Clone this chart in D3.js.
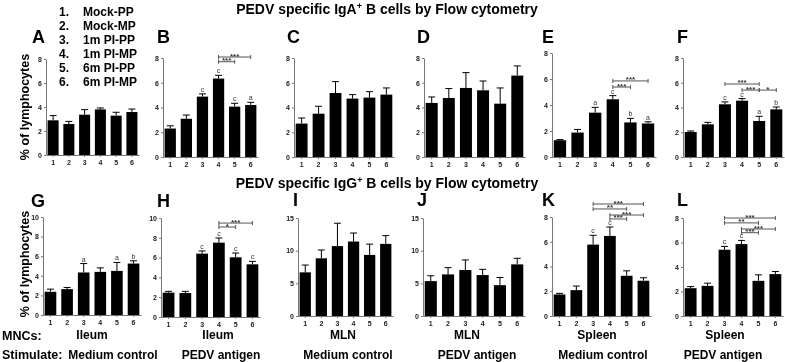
<!DOCTYPE html>
<html>
<head>
<meta charset="utf-8">
<script src="https://cdn.jsdelivr.net/npm/d3@7"></script>
<style>
body { margin: 0; background: #fff; }
svg { font-family: "Liberation Sans", Arial, sans-serif; font-weight: bold; will-change: transform; }
.axis path, .axis line { stroke: #777; }
.axis text { font-size: 7px; font-weight: bold; fill: #222; }
</style>
</head>
<body>
<div id="chart"></div>
<script>
var width = 785, height = 362;

var groups = ["1", "2", "3", "4", "5", "6"];
var legendLabels = ["Mock-PP", "Mock-MP", "1m PI-PP", "1m PI-MP", "6m PI-PP", "6m PI-MP"];

// IgA+ B cells, mean and SEM (% of lymphocytes)
var meanA = [2.89, 2.58, 3.36, 3.80, 3.28, 3.58];
var semA  = [0.39, 0.22, 0.42, 0.12, 0.28, 0.25];
var meanB = [2.30, 3.09, 4.88, 6.34, 4.07, 4.20];
var semB  = [0.22, 0.30, 0.22, 0.26, 0.27, 0.22];
var meanC = [2.70, 3.50, 5.17, 4.72, 4.80, 5.04];
var semC  = [0.45, 0.60, 0.92, 0.32, 0.48, 0.54];
var meanD = [4.37, 4.77, 5.58, 5.39, 4.31, 6.58];
var semD  = [0.48, 0.76, 1.24, 0.75, 1.27, 0.78];
var meanE = [1.29, 1.88, 3.41, 4.44, 2.66, 2.58];
var semE  = [0.05, 0.24, 0.41, 0.28, 0.31, 0.13];
var meanF = [2.02, 2.64, 4.26, 4.55, 2.91, 3.85];
var semF  = [0.08, 0.16, 0.19, 0.17, 0.38, 0.19];

// IgG+ B cells
var meanG = [2.37, 2.64, 4.34, 4.40, 4.50, 5.25];
var semG  = [0.27, 0.17, 0.91, 0.41, 0.86, 0.28];
var meanH = [2.46, 2.42, 6.40, 7.51, 6.03, 5.32];
var semH  = [0.13, 0.17, 0.27, 0.47, 0.43, 0.30];
var meanI = [6.68, 8.83, 10.70, 11.40, 9.35, 11.04];
var semI  = [1.12, 1.27, 3.50, 1.30, 1.65, 1.26];
var meanJ = [5.34, 6.37, 7.04, 6.27, 4.72, 7.90];
var semJ  = [0.82, 1.03, 1.54, 0.87, 1.18, 0.93];
var meanK = [1.74, 2.09, 5.77, 6.47, 3.25, 2.85];
var semK  = [0.09, 0.33, 0.75, 0.72, 0.40, 0.24];
var meanL = [2.27, 2.46, 5.41, 5.87, 2.87, 3.42];
var semL  = [0.13, 0.22, 0.27, 0.30, 0.49, 0.21];

// letters above bars
var letterB = ["", "", "c", "c", "c", "a"];
var letterE = ["", "", "a", "c", "b", "a"];
var letterF = ["", "", "c", "c", "a", "b"];
var letterG = ["", "", "a", "", "a", "b"];
var letterH = ["", "", "c", "c", "c", "c"];
var letterK = ["", "", "c", "c", "", ""];
var letterL = ["", "", "c", "c", "", ""];

// significance brackets: [from group, to group, stars, level in data units]
var sigB = [[4, 6, "***", 8.08], [4, 5, "***", 7.7]];
var sigE = [[4, 6, "***", 5.85], [4, 5, "***", 5.38]];
var sigF = [[3, 5, "***", 5.9], [4, 5, "***", 5.41], [5, 6, "*", 5.41]];
var sigH = [[4, 6, "***", 9.49], [4, 5, "*", 9.09]];
var sigK = [[3, 6, "***", 9.05], [3, 5, "**", 8.65], [4, 6, "***", 8.16], [4, 5, "***", 7.84]];
var sigL = [[3, 6, "***", 8.0], [3, 5, "**", 7.6], [4, 6, "***", 7.1], [4, 5, "***", 6.8]];

var yMax8 = 8, yMax10 = 10, yMax15 = 15;
var yTicks8 = [0, 2, 4, 6, 8], yTicks10 = [0, 2, 4, 6, 8, 10], yTicks15 = [0, 5, 10, 15];

var tissueLabels = ["Ileum", "Ileum", "MLN", "MLN", "Spleen", "Spleen"];
var stimLabels = ["Medium control", "PEDV antigen", "Medium control", "PEDV antigen", "Medium control", "PEDV antigen"];

var panels = [
  {id: "A", mean: meanA, sem: semA, max: yMax8, ticks: yTicks8, x0: 46, x1: 139, yb: 155, yt: 59, lx: 32, ly: 43},
  {id: "B", mean: meanB, sem: semB, max: yMax8, ticks: yTicks8, letters: letterB, sig: sigB, x0: 163, x1: 258, yb: 157, yt: 58, lx: 157, ly: 43},
  {id: "C", mean: meanC, sem: semC, max: yMax8, ticks: yTicks8, x0: 294, x1: 394, yb: 157, yt: 58, lx: 287, ly: 43},
  {id: "D", mean: meanD, sem: semD, max: yMax8, ticks: yTicks8, x0: 424, x1: 525, yb: 157, yt: 58, lx: 417, ly: 43},
  {id: "E", mean: meanE, sem: semE, max: yMax8, ticks: yTicks8, letters: letterE, sig: sigE, x0: 552, x1: 656, yb: 157, yt: 53, lx: 542, ly: 43},
  {id: "F", mean: meanF, sem: semF, max: yMax8, ticks: yTicks8, letters: letterF, sig: sigF, x0: 683, x1: 784, yb: 157, yt: 58, lx: 677, ly: 43},
  {id: "G", mean: meanG, sem: semG, max: yMax10, ticks: yTicks10, letters: letterG, x0: 43, x1: 141, yb: 315, yt: 217, lx: 31, ly: 207},
  {id: "H", mean: meanH, sem: semH, max: yMax10, ticks: yTicks10, letters: letterH, sig: sigH, x0: 161, x1: 260, yb: 317, yt: 218, lx: 157, ly: 207},
  {id: "I", mean: meanI, sem: semI, max: yMax15, ticks: yTicks15, x0: 298, x1: 393, yb: 316, yt: 218, lx: 293, ly: 206},
  {id: "J", mean: meanJ, sem: semJ, max: yMax15, ticks: yTicks15, x0: 423, x1: 525, yb: 316, yt: 218, lx: 417, ly: 206},
  {id: "K", mean: meanK, sem: semK, max: yMax8, ticks: yTicks8, letters: letterK, sig: sigK, x0: 552, x1: 651, yb: 316, yt: 217, lx: 542, ly: 206},
  {id: "L", mean: meanL, sem: semL, max: yMax8, ticks: yTicks8, letters: letterL, sig: sigL, x0: 683, x1: 783, yb: 316, yt: 218, lx: 677, ly: 206}
];
// label centres under the bottom row
var tissueX = [92, 218, 343, 467, 597, 725];
var stimX = [113, 221, 348, 477, 603, 723];

var svg = d3.select("#chart").append("svg")
    .attr("width", width)
    .attr("height", height);

panels.forEach(function (p) {
    var x = d3.scaleBand().domain(groups).range([p.x0, p.x1]).paddingInner(0.3).paddingOuter(0.1);
    var y = d3.scaleLinear().domain([0, p.max]).range([p.yb, p.yt]);
    var g = svg.append("g");
    var bw = x.bandwidth();

    // bars
    g.selectAll("rect").data(p.mean).enter().append("rect")
        .attr("x", (d, i) => x(groups[i]))
        .attr("y", d => y(d))
        .attr("width", bw)
        .attr("height", d => p.yb - y(d))
        .attr("fill", "#000");

    // error bars (upper only)
    p.mean.forEach(function (m, i) {
        var cx = x(groups[i]) + bw / 2;
        var top = y(m + p.sem[i]);
        g.append("line").attr("x1", cx).attr("x2", cx).attr("y1", y(m)).attr("y2", top)
            .attr("stroke", "#000").attr("stroke-width", 1);
        g.append("line").attr("x1", cx - 3.5).attr("x2", cx + 3.5).attr("y1", top).attr("y2", top)
            .attr("stroke", "#000").attr("stroke-width", 1);
        if (p.letters && p.letters[i]) {
            g.append("text").attr("x", cx).attr("y", top - 2)
                .attr("text-anchor", "middle")
                .style("font-size", "7px").style("font-weight", "normal").style("fill", "#333")
                .text(p.letters[i]);
        }
    });

    // axes
    g.append("g").attr("class", "axis")
        .attr("transform", "translate(" + p.x0 + ",0)")
        .call(d3.axisLeft(y).tickValues(p.ticks).tickSize(2).tickSizeOuter(0).tickPadding(2));
    g.append("g").attr("class", "axis")
        .attr("transform", "translate(0," + p.yb + ")")
        .call(d3.axisBottom(x).tickSize(2).tickSizeOuter(0).tickPadding(3));

    // significance brackets
    (p.sig || []).forEach(function (s) {
        var xa = x(groups[s[0] - 1]) + bw / 2;
        var xb = x(groups[s[1] - 1]) + bw / 2;
        var yy = y(s[3]);
        g.append("path")
            .attr("d", "M" + xa + "," + (yy - 2) + "V" + (yy + 2) + "M" + xa + "," + yy + "H" + xb +
                "M" + xb + "," + (yy - 2) + "V" + (yy + 2))
            .attr("fill", "none").attr("stroke", "#555").attr("stroke-width", 1);
        g.append("text").attr("x", (xa + xb) / 2).attr("y", yy + 1.5)
            .attr("text-anchor", "middle")
            .style("font-size", "8px").style("fill", "#333")
            .text(s[2]);
    });

    // panel letter
    svg.append("text").attr("x", p.lx).attr("y", p.ly)
        .style("font-size", "18px")
        .text(p.id);
});

// titles
[["IgA", 14], ["IgG", 188]].forEach(function (t) {
    var tx = svg.append("text").attr("x", 387).attr("y", t[1])
        .attr("text-anchor", "middle").style("font-size", "14px");
    tx.append("tspan").text("PEDV specific " + t[0]);
    tx.append("tspan").attr("dy", -5).style("font-size", "9px").text("+");
    tx.append("tspan").attr("dy", 5).text(" B cells by Flow cytometry");
});

// legend
legendLabels.forEach(function (l, i) {
    svg.append("text").attr("x", 59).attr("y", 16 + i * 14).style("font-size", "12px").text(groups[i] + ".");
    svg.append("text").attr("x", 83).attr("y", 16 + i * 14).style("font-size", "12px").text(l);
});

// y-axis titles
[107, 264].forEach(function (cy) {
    svg.append("text")
        .attr("transform", "translate(29," + cy + ") rotate(-90)")
        .attr("text-anchor", "middle")
        .style("font-size", "12.5px")
        .text("% of lymphocytes");
});

// bottom labels
svg.append("text").attr("x", 2).attr("y", 340).style("font-size", "12.5px").text("MNCs:");
svg.append("text").attr("x", 2).attr("y", 359).style("font-size", "12.5px").text("Stimulate:");
tissueLabels.forEach(function (l, i) {
    svg.append("text").attr("x", tissueX[i]).attr("y", 339)
        .attr("text-anchor", "middle").style("font-size", "12px").text(l);
    svg.append("text").attr("x", stimX[i]).attr("y", 359)
        .attr("text-anchor", "middle").style("font-size", "12px").text(stimLabels[i]);
});
</script>
</body>
</html>
